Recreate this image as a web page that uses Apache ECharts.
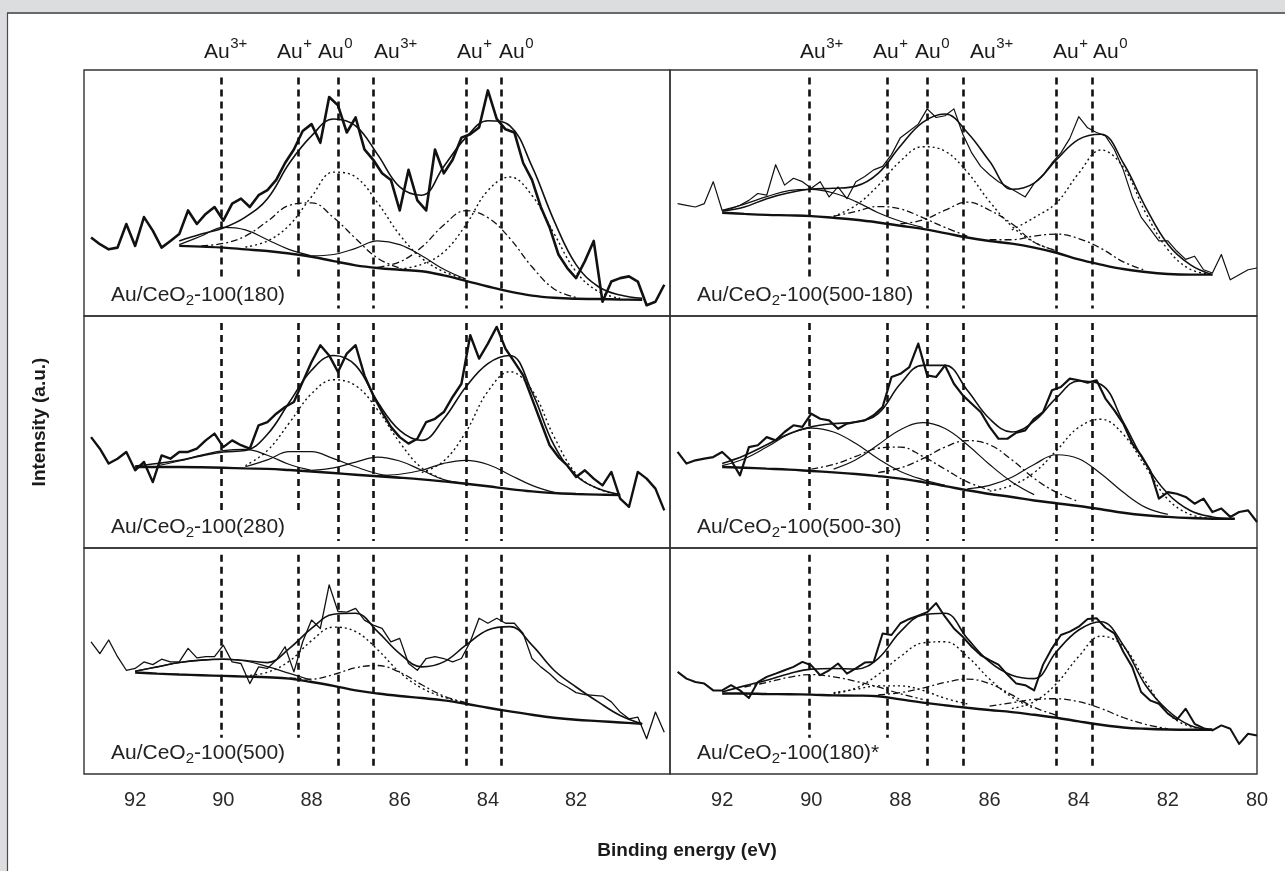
<!DOCTYPE html>
<html>
<head>
<meta charset="utf-8">
<title>Au 4f XPS spectra of Au/CeO2-100 catalysts</title>
<script src="https://cdn.jsdelivr.net/npm/echarts@6/dist/echarts.min.js"></script>
<style>
  html, body { margin: 0; padding: 0; background: #ffffff; }
  #chart { width: 1285px; height: 871px; }
</style>
</head>
<body>
<div id="chart"></div>
<script>
const FONT = '"Liberation Sans", Arial, Helvetica, sans-serif';
const _ = null;

// ---------- data ----------
// binding-energy grid of the measured spectra (eV)
const rawEnergy = [93.0, 92.8, 92.6, 92.4, 92.2, 92.0, 91.8, 91.6, 91.4, 91.2,
  91.0, 90.8, 90.6, 90.4, 90.2, 90.0, 89.8, 89.6, 89.4, 89.2,
  89.0, 88.8, 88.6, 88.4, 88.2, 88.0, 87.8, 87.6, 87.4, 87.2,
  87.0, 86.8, 86.6, 86.4, 86.2, 86.0, 85.8, 85.6, 85.4, 85.2,
  85.0, 84.8, 84.6, 84.4, 84.2, 84.0, 83.8, 83.6, 83.4, 83.2,
  83.0, 82.8, 82.6, 82.4, 82.2, 82.0, 81.8, 81.6, 81.4, 81.2,
  81.0, 80.8, 80.6, 80.4, 80.2, 80.0];

// binding-energy grid of the fitted curves (eV)
const fitEnergy = [92.0, 91.5, 91.0, 90.5, 90.0, 89.5, 89.0, 88.5, 88.0, 87.5,
  87.0, 86.5, 86.0, 85.5, 85.0, 84.5, 84.0, 83.5, 83.0, 82.5, 82.0, 81.5, 81.0, 80.5];

// Au 4f reference energies (eV) and oxidation-state tags
const refLines = [90.05, 88.3, 87.4, 86.6, 84.5, 83.7];
const stateTags = ['3+', '+', '0', '3+', '+', '0'];

// tick labels
const leftTicks = [92, 90, 88, 86, 84, 82];
const rightTicks = [92, 90, 88, 86, 84, 82, 80];

// sample names (Au/CeO2-100(...))
const sampleNames = ['100(180)', '100(500-180)', '100(280)', '100(500-30)', '100(500)', '100(180)*'];

// --- Au/CeO2-100(180) ---
const s1Raw = [31.9, 29.2, 27.1, 27.8, 37.4, 28.5, 40.2, 34.7, 27.8, 30.5,
  33.3, 42.9, 37.4, 41.5, 44.3, 38.8, 45.7, 47.7, 44.3, 49.1,
  51.2, 55.3, 62.2, 67.7, 75.2, 78.0, 70.4, 89.0, 85.6, 74.6,
  80.7, 67.7, 63.5, 58.0, 55.3, 42.9, 59.4, 47.0, 42.9, 67.7,
  58.0, 63.5, 72.5, 73.9, 76.6, 91.7, 80.1, 75.9, 74.6, 62.2,
  55.3, 44.3, 36.0, 25.0, 19.5, 15.4, 22.3, 30.5, 5.8, 14.0,
  15.4, 16.1, 14.0, 4.4, 5.8, 12.7];
const s1Bg  = [_, _, 28.5, 28.2, 27.8, 27.1, 26.4, 25.4, 24.1, 22.3, 20.6, 19.5, 18.8, 18.2, 16.5, 14.3, 12.0, 9.9, 8.3, 7.4, 7.0, 6.9, 6.7, 6.6];
const s1Env = [_, _, 30.5, 33.3, 35.8, 40.2, 47.7, 62.2, 73.2, 80.1, 77.3, 65.6, 52.5, 49.1, 60.8, 72.5, 79.4, 77.3, 60.8, 38.8, 20.9, 12.0, 8.5, 7.2];
const s1Au3a = [_, _, 29.0, 32.5, 36.0, 35.0, 31.0, 27.0, 24.5, _, _, _, _, _, _, _, _, _, _, _, _, _, _, _];
const s1Au1a = [_, _, _, 28.5, 29.5, 32.5, 38.5, 45.0, 46.0, 40.0, 31.5, 23.5, 19.5, _, _, _, _, _, _, _, _, _, _, _];
const s1Au0a = [_, _, _, _, _, 28.0, 30.5, 37.0, 48.5, 58.5, 56.5, 46.0, 33.0, 23.5, 18.0, 15.0, _, _, _, _, _, _, _, _];
const s1Au3b = [_, _, _, _, _, _, _, _, 24.5, 25.0, 27.5, 30.5, 29.0, 24.5, 19.0, 15.0, _, _, _, _, _, _, _, _];
const s1Au1b = [_, _, _, _, _, _, _, _, _, _, _, 19.8, 22.0, 28.0, 37.0, 42.8, 40.0, 31.5, 20.0, 11.0, 7.5, _, _, _];
const s1Au0b = [_, _, _, _, _, _, _, _, _, _, _, _, 19.0, 21.0, 26.0, 37.0, 51.0, 56.5, 49.0, 33.5, 18.0, 10.0, 7.2, _];

// --- Au/CeO2-100(500-180) ---
const s2Raw = [45.7, 45.0, 44.3, 45.7, 54.6, 42.9, 43.6, 45.0, 47.0, 49.8,
  49.1, 61.5, 53.2, 56.0, 54.6, 51.9, 54.6, 48.4, 52.5, 47.7,
  54.6, 56.7, 59.4, 60.8, 65.6, 72.5, 75.2, 78.0, 84.2, 80.7,
  81.4, 84.2, 73.9, 66.3, 60.8, 57.4, 54.6, 52.5, 50.5, 48.4,
  53.9, 57.4, 62.2, 66.3, 72.2, 81.0, 76.5, 74.6, 73.2, 67.7,
  59.4, 48.4, 40.2, 35.4, 30.5, 30.5, 26.4, 23.0, 24.3, 18.8,
  17.5, 25.0, 14.7, 16.8, 18.8, 19.5];
const s2Bg  = [42.0, 41.5, 41.1, 40.9, 40.6, 39.9, 39.1, 38.0, 36.7, 35.4, 33.7, 31.9, 30.5, 29.4, 27.8, 25.7, 23.0, 20.9, 19.1, 17.9, 17.1, 16.8, 16.8, _];
const s2Env = [42.6, 44.3, 47.7, 50.1, 51.6, 51.9, 52.8, 58.0, 69.1, 78.7, 82.1, 74.6, 62.9, 51.5, 54.0, 63.5, 71.8, 73.9, 62.2, 44.3, 29.2, 20.9, 16.8, _];
const s2Au3a = [43.0, 45.5, 48.5, 51.0, 51.5, 50.0, 46.5, 42.0, 38.5, 36.0, _, _, _, _, _, _, _, _, _, _, _, _, _, _];
const s2Au1a = [_, _, _, _, _, 40.5, 42.5, 44.5, 43.5, 40.0, 36.0, 32.5, _, _, _, _, _, _, _, _, _, _, _, _];
const s2Au0a = [_, _, _, _, _, 40.5, 45.0, 53.0, 63.0, 68.8, 67.0, 58.5, 46.5, 36.5, 30.0, 26.5, _, _, _, _, _, _, _, _];
const s2Au3b = [_, _, _, _, _, _, _, _, 37.5, 39.0, 43.0, 46.3, 43.0, 37.5, 30.0, 26.5, _, _, _, _, _, _, _, _];
const s2Au1b = [_, _, _, _, _, _, _, _, _, _, _, _, 31.0, 31.0, 32.5, 33.3, 31.5, 27.5, 22.0, 18.5, _, _, _, _];
const s2Au0b = [_, _, _, _, _, _, _, _, _, _, _, _, _, 35.0, 40.0, 46.0, 58.0, 67.5, 60.5, 42.0, 27.0, 19.0, 17.0, _];

// --- Au/CeO2-100(280) ---
const s3Raw = [47.8, 42.8, 36.4, 38.5, 41.4, 33.5, 37.1, 28.4, 39.9, 38.5,
  41.4, 41.4, 42.8, 46.4, 49.3, 43.5, 46.4, 44.3, 42.8, 52.9,
  54.3, 57.9, 60.8, 62.9, 71.6, 80.2, 87.4, 83.0, 75.9, 83.8,
  87.4, 74.4, 65.8, 58.6, 52.2, 47.8, 45.0, 47.1, 54.3, 55.7,
  58.6, 65.1, 70.8, 91.7, 81.6, 88.1, 95.3, 85.9, 80.2, 74.4,
  64.4, 54.3, 44.3, 39.2, 35.6, 30.6, 33.5, 29.9, 27.0, 32.8,
  21.3, 17.7, 32.8, 29.9, 25.6, 16.2];
const s3Bg  = [34.9, 34.9, 34.9, 34.8, 34.6, 34.3, 34.1, 33.6, 33.0, 32.3, 31.6, 30.9, 30.3, 29.6, 28.7, 27.7, 26.6, 25.4, 24.4, 23.7, 23.3, 23.0, 22.8, _];
const s3Env = [35.3, 36.4, 37.8, 39.7, 41.4, 42.0, 49.0, 62.9, 76.6, 83.0, 78.7, 62.9, 50.7, 46.4, 55.7, 69.4, 79.5, 83.0, 67.2, 44.3, 31.3, 25.6, 23.0, _];
const s3Au3a = [_, 35.5, 37.5, 40.0, 42.0, 42.5, 40.0, 36.0, 33.5, _, _, _, _, _, _, _, _, _, _, _, _, _, _, _];
const s3Au1a = [_, _, _, _, _, 35.0, 38.0, 41.5, 41.5, 38.5, 35.0, 32.0, 30.5, _, _, _, _, _, _, _, _, _, _, _];
const s3Au0a = [_, _, _, _, _, 35.5, 42.0, 54.0, 66.5, 72.5, 70.0, 59.5, 45.5, 34.5, 29.5, _, _, _, _, _, _, _, _, _];
const s3Au3b = [_, _, _, _, _, _, _, _, 33.5, 34.5, 37.0, 39.2, 37.5, 33.5, 29.5, 27.8, _, _, _, _, _, _, _, _];
const s3Au1b = [_, _, _, _, _, _, _, _, _, _, _, 31.3, 31.8, 33.5, 36.5, 37.8, 36.0, 31.5, 27.0, 24.0, _, _, _, _];
const s3Au0b = [_, _, _, _, _, _, _, _, _, _, _, _, _, 32.5, 37.5, 50.0, 67.5, 76.0, 68.0, 48.0, 32.0, 25.5, 23.0, _];

// --- Au/CeO2-100(500-30) ---
const s4Raw = [41.4, 36.4, 37.8, 38.5, 39.2, 41.4, 37.8, 31.3, 43.5, 44.3,
  47.8, 46.4, 50.0, 52.9, 52.2, 57.9, 55.7, 55.0, 51.4, 53.6,
  54.3, 55.0, 57.2, 60.8, 73.7, 75.1, 78.0, 88.1, 74.4, 73.7,
  78.7, 70.8, 65.8, 62.2, 58.6, 52.2, 47.1, 47.1, 49.7, 50.7,
  55.7, 58.6, 68.0, 69.4, 73.0, 72.3, 71.3, 72.3, 64.4, 59.3,
  53.6, 45.0, 39.9, 33.5, 21.3, 24.1, 23.4, 22.0, 19.1, 21.3,
  15.5, 17.0, 13.4, 15.5, 16.2, 11.2];
const s4Bg  = [34.9, 34.6, 34.2, 33.8, 33.2, 32.6, 31.9, 31.0, 29.9, 28.4, 26.7, 24.9, 23.3, 22.0, 20.5, 19.3, 18.1, 16.7, 15.2, 14.1, 13.4, 12.9, 12.6, 12.6];
const s4Env = [36.4, 39.9, 44.5, 49.3, 52.2, 53.6, 54.3, 57.9, 70.8, 78.7, 78.7, 68.0, 55.7, 50.0, 54.7, 64.7, 72.0, 70.5, 54.3, 36.4, 23.4, 16.2, 13.4, 12.6];
const s4Au3a = [35.5, 38.5, 43.5, 49.0, 51.7, 50.0, 45.0, 38.5, 33.0, 29.5, 27.0, _, _, _, _, _, _, _, _, _, _, _, _, _];
const s4Au1a = [_, _, _, _, 34.0, 36.0, 39.5, 43.0, 43.5, 39.5, 34.0, 28.5, 25.0, _, _, _, _, _, _, _, _, _, _, _];
const s4Au0a = [_, _, _, _, _, 34.0, 38.0, 44.5, 51.0, 54.0, 51.5, 44.5, 36.0, 28.5, 23.0, _, _, _, _, _, _, _, _, _];
const s4Au3b = [_, _, _, _, _, _, _, 32.5, 34.5, 38.5, 43.5, 46.3, 44.5, 38.0, 30.0, 24.0, 20.0, _, _, _, _, _, _, _];
const s4Au1b = [_, _, _, _, _, _, _, _, _, _, _, 25.5, 27.0, 30.5, 36.0, 40.2, 38.5, 32.0, 24.0, 17.5, 14.5, _, _, _];
const s4Au0b = [_, _, _, _, _, _, _, _, _, _, _, _, 24.5, 27.0, 32.5, 42.0, 52.0, 55.5, 49.0, 35.0, 21.0, 14.5, 12.8, _];

// --- Au/CeO2-100(500) ---
const s5Raw = [58.5, 53.3, 59.3, 51.9, 45.9, 46.7, 49.6, 48.4, 50.8, 49.6,
  49.6, 55.6, 51.4, 51.9, 51.9, 57.0, 49.6, 48.9, 40.0, 47.4,
  46.7, 50.4, 56.3, 45.2, 58.5, 68.1, 64.4, 83.7, 71.9, 71.6,
  73.3, 68.1, 65.9, 64.4, 58.5, 60.0, 48.9, 45.9, 51.1, 51.9,
  51.1, 49.6, 51.1, 58.5, 68.9, 66.7, 68.9, 66.7, 66.7, 62.2,
  51.1, 47.4, 44.4, 40.7, 38.5, 36.0, 35.1, 34.8, 34.5, 31.9,
  27.4, 24.4, 25.2, 15.6, 27.4, 18.5];
const s5Bg  = [44.9, 44.4, 44.0, 43.7, 43.4, 43.1, 42.8, 42.2, 40.7, 39.0, 37.0, 35.6, 34.5, 33.6, 32.6, 31.1, 29.3, 27.7, 26.2, 24.9, 24.0, 23.4, 22.8, 22.2];
const s5Env = [45.5, 47.4, 49.3, 50.4, 50.8, 50.2, 49.3, 55.6, 64.4, 70.7, 71.1, 63.0, 53.3, 47.4, 49.6, 57.0, 63.7, 65.2, 57.0, 45.9, 38.5, 31.9, 25.9, 22.2];
const s5Au3a = [45.5, 47.4, 49.3, 50.4, 50.8, 50.0, 47.5, 44.5, 41.5, _, _, _, _, _, _, _, _, _, _, _, _, _, _, _];
const s5Au0a = [_, _, _, _, _, 43.5, 45.0, 50.0, 59.0, 65.0, 63.0, 55.0, 45.0, 38.0, 34.0, 31.5, _, _, _, _, _, _, _, _];
const s5Au3b = [_, _, _, _, _, _, _, 42.5, 42.0, 44.0, 47.0, 48.0, 45.0, 39.5, 34.5, 31.5, _, _, _, _, _, _, _, _];

// --- Au/CeO2-100(180)* ---
const s6Raw = [45.2, 42.2, 40.7, 40.0, 37.0, 37.0, 39.3, 37.0, 33.6, 40.7,
  43.0, 44.4, 45.9, 47.4, 49.6, 48.1, 43.7, 45.9, 48.9, 44.4,
  46.7, 49.3, 49.6, 62.2, 61.5, 66.7, 68.6, 70.1, 71.6, 75.6,
  69.6, 64.4, 60.7, 56.3, 52.6, 50.4, 48.4, 44.0, 40.0, 39.3,
  37.0, 48.4, 55.6, 61.5, 63.0, 65.2, 68.6, 68.9, 64.7, 62.2,
  54.1, 47.4, 36.3, 32.6, 31.1, 26.7, 24.0, 28.9, 22.2, 20.3,
  19.3, 21.5, 20.0, 13.3, 17.8, 17.0];
const s6Bg  = [35.6, 35.6, 35.4, 35.3, 35.1, 34.8, 34.7, 34.4, 33.0, 31.6, 30.4, 29.3, 28.3, 27.4, 26.2, 24.9, 23.3, 21.8, 20.6, 20.0, 19.7, 19.6, 19.6, _];
const s6Env = [36.3, 39.0, 41.5, 44.4, 46.4, 46.7, 46.4, 51.1, 63.0, 70.4, 71.1, 60.0, 49.6, 43.7, 42.2, 54.1, 63.7, 67.4, 57.0, 39.3, 28.1, 21.5, 19.7, _];
const s6Au3a = [_, 38.5, 40.5, 42.8, 44.0, 43.0, 41.0, 38.5, 35.5, 33.0, _, _, _, _, _, _, _, _, _, _, _, _, _, _];
const s6Au1a = [_, _, _, _, _, 36.0, 37.5, 39.0, 39.0, 37.0, 33.5, 31.0, _, _, _, _, _, _, _, _, _, _, _, _];
const s6Au0a = [_, _, _, _, _, 35.5, 38.0, 44.0, 52.0, 58.0, 58.5, 52.0, 42.0, 34.0, 29.0, _, _, _, _, _, _, _, _, _];
const s6Au3b = [_, _, _, _, _, _, _, 35.0, 36.0, 38.0, 40.5, 42.0, 40.0, 35.0, 29.5, 26.0, _, _, _, _, _, _, _, _];
const s6Au1b = [_, _, _, _, _, _, _, _, _, _, _, _, 30.0, 31.5, 33.0, 33.3, 32.0, 29.0, 25.0, 22.0, 20.0, _, _, _];
const s6Au0b = [_, _, _, _, _, _, _, _, _, _, _, _, _, 29.0, 32.0, 40.0, 52.0, 61.0, 56.5, 41.0, 27.0, 21.0, 19.8, _];

// ---------- layout ----------
const COLS = [
  { left: 84,  width: 586, min: 79.87, max: 93.16, ticks: leftTicks,  tagX: [204, 277, 318, 374, 457, 499] },
  { left: 670, width: 587, min: 80.0,  max: 93.17, ticks: rightTicks, tagX: [800, 873, 915, 970, 1053, 1093] }
];
const ROWS = [
  { top: 70,  height: 246 },
  { top: 316, height: 232 },
  { top: 548, height: 226 }
];

const LINE = '#111111';
const STYLE = {
  solid:   { type: 'solid', width: 1.2 },
  dashdot: { type: [7, 3, 2, 3], width: 1.3 },
  dot:     { type: [2, 3], width: 1.4 }
};

const panels = [
  { col: 0, row: 0, raw: s1Raw, rawW: 2.6, bg: s1Bg, env: s1Env,
    comps: [[s1Au3a, 'solid'], [s1Au1a, 'dashdot'], [s1Au0a, 'dot'], [s1Au3b, 'solid'], [s1Au1b, 'dashdot'], [s1Au0b, 'dot']] },
  { col: 1, row: 0, raw: s2Raw, rawW: 1.2, bg: s2Bg, env: s2Env,
    comps: [[s2Au3a, 'solid'], [s2Au1a, 'dashdot'], [s2Au0a, 'dot'], [s2Au3b, 'dashdot'], [s2Au1b, 'dashdot'], [s2Au0b, 'dot']] },
  { col: 0, row: 1, raw: s3Raw, rawW: 2.4, bg: s3Bg, env: s3Env,
    comps: [[s3Au3a, 'solid'], [s3Au1a, 'solid'], [s3Au0a, 'dot'], [s3Au3b, 'solid'], [s3Au1b, 'solid'], [s3Au0b, 'dot']] },
  { col: 1, row: 1, raw: s4Raw, rawW: 2.2, bg: s4Bg, env: s4Env,
    comps: [[s4Au3a, 'solid'], [s4Au1a, 'dashdot'], [s4Au0a, 'solid'], [s4Au3b, 'dashdot'], [s4Au1b, 'solid'], [s4Au0b, 'dot']] },
  { col: 0, row: 2, raw: s5Raw, rawW: 1.3, bg: s5Bg, env: s5Env,
    comps: [[s5Au3a, 'solid'], [s5Au0a, 'dot'], [s5Au3b, 'dashdot']] },
  { col: 1, row: 2, raw: s6Raw, rawW: 2.0, bg: s6Bg, env: s6Env,
    comps: [[s6Au3a, 'dashdot'], [s6Au1a, 'dot'], [s6Au0a, 'dot'], [s6Au3b, 'dashdot'], [s6Au1b, 'dashdot'], [s6Au0b, 'dot']] }
];

function pairs(xs, ys) {
  const out = [];
  for (let i = 0; i < xs.length; i++) if (ys[i] !== null) out.push([xs[i], ys[i]]);
  return out;
}

// text measurement for composed labels (sub/superscripts)
const mctx = document.createElement('canvas').getContext('2d');
function tw(s, size, weight) {
  mctx.font = (weight || 'normal') + ' ' + size + 'px ' + FONT;
  return mctx.measureText(s).width;
}
function txt(str, x, y, size, o) {
  o = o || {};
  return {
    type: 'text', silent: true, z: 50,
    x: o.ex || 0, y: o.ey || 0, rotation: o.rot || 0,
    style: {
      text: str, x: x, y: y,
      font: (o.weight || 'normal') + ' ' + size + 'px ' + FONT,
      fill: o.fill || '#1a1a1a',
      align: o.align || 'left', verticalAlign: 'middle',
      textAlign: o.align || 'left', textVerticalAlign: 'middle'
    }
  };
}

const grids = [], xAxes = [], yAxes = [], series = [];
const elements = [];

panels.forEach((p, i) => {
  const c = COLS[p.col], r = ROWS[p.row];
  grids.push({
    left: c.left, top: r.top, width: c.width, height: r.height,
    show: true, borderColor: '#333', borderWidth: 1.4, backgroundColor: 'transparent'
  });
  const bottom = p.row === 2;
  xAxes.push({
    gridIndex: i, type: 'value', inverse: true, min: c.min, max: c.max,
    axisLine: { show: false }, axisTick: { show: false }, splitLine: { show: false },
    axisLabel: {
      show: bottom, customValues: c.ticks, margin: 16,
      fontFamily: FONT, fontSize: 20, color: '#2a2a2a'
    }
  });
  yAxes.push({ gridIndex: i, type: 'value', min: 0, max: 100, show: false });

  // measured spectrum, carrying the dashed reference lines
  series.push({
    type: 'line', xAxisIndex: i, yAxisIndex: i, z: 4,
    data: pairs(rawEnergy, p.raw), showSymbol: false, silent: true,
    lineStyle: { color: LINE, width: p.rawW, join: 'round' },
    markLine: {
      silent: true, symbol: ['none', 'none'], label: { show: false },
      animation: false,
      lineStyle: { color: LINE, type: [7, 5], width: 2.6 },
      data: refLines.map((e, k) => [{ coord: [e, 97] }, { coord: [e, k < 2 ? 16 : 3] }])
    }
  });
  // background
  series.push({
    type: 'line', xAxisIndex: i, yAxisIndex: i, z: 3,
    data: pairs(fitEnergy, p.bg), showSymbol: false, silent: true, smooth: 0.4,
    lineStyle: { color: LINE, width: 2.4 }
  });
  // fitted envelope
  series.push({
    type: 'line', xAxisIndex: i, yAxisIndex: i, z: 3,
    data: pairs(fitEnergy, p.env), showSymbol: false, silent: true, smooth: 0.4,
    lineStyle: { color: LINE, width: 1.6 }
  });
  // fitted components
  p.comps.forEach(([vals, kind]) => {
    series.push({
      type: 'line', xAxisIndex: i, yAxisIndex: i, z: 2,
      data: pairs(fitEnergy, vals), showSymbol: false, silent: true, smooth: 0.4,
      lineStyle: Object.assign({ color: LINE }, STYLE[kind])
    });
  });

  // sample name with subscript
  const lx = c.left + 27, ly = r.top + r.height - 21;
  const a = 'Au/CeO', b = '-' + sampleNames[i];
  elements.push(txt(a, lx, ly, 21, { fill: '#222' }));
  const w1 = tw(a, 21);
  elements.push(txt('2', lx + w1, ly + 6, 15, { fill: '#222' }));
  elements.push(txt(b, lx + w1 + tw('2', 15), ly, 21, { fill: '#222' }));
});

// oxidation-state tags above the top row
COLS.forEach(c => {
  c.tagX.forEach((x, k) => {
    elements.push(txt('Au', x, 52.5, 21));
    elements.push(txt(stateTags[k], x + tw('Au', 21) + 0.5, 44, 15));
  });
});

// axis titles
elements.push(txt('Binding energy (eV)', 687, 851, 19, { weight: 'bold', align: 'center', fill: '#1a1a1a' }));
elements.push(txt('Intensity (a.u.)', 0, 0, 19, { weight: 'bold', align: 'center', ex: 40, ey: 422, rot: Math.PI / 2, fill: '#1a1a1a' }));

// page frame: grey strip on top and left
elements.push({ type: 'rect', silent: true, z: 1, shape: { x: 0, y: 0, width: 1285, height: 12.5 }, style: { fill: '#dcdddf' } });
elements.push({ type: 'rect', silent: true, z: 1, shape: { x: 0, y: 0, width: 7, height: 871 }, style: { fill: '#dcdddf' } });
elements.push({ type: 'line', silent: true, z: 2, shape: { x1: 7, y1: 13, x2: 1285, y2: 13 }, style: { stroke: '#3a3a3a', lineWidth: 1.3 } });
elements.push({ type: 'line', silent: true, z: 2, shape: { x1: 7.5, y1: 13, x2: 7.5, y2: 871 }, style: { stroke: '#4a4a4a', lineWidth: 1.2 } });

const chart = echarts.init(document.getElementById('chart'), null, { renderer: 'canvas' });
chart.setOption({
  backgroundColor: '#ffffff',
  animation: false,
  grid: grids,
  xAxis: xAxes,
  yAxis: yAxes,
  series: series,
  graphic: { elements: elements }
});
</script>
</body>
</html>
